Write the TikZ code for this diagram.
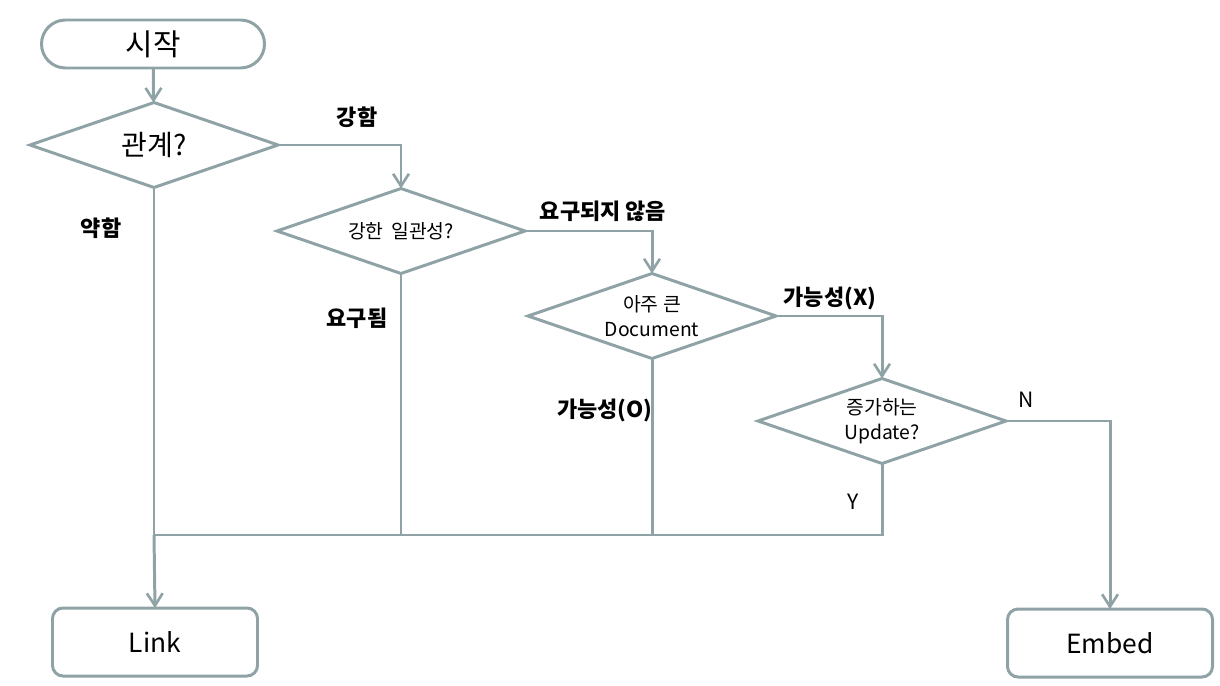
\documentclass[tikz,border=0pt]{standalone}
\usepackage{fontspec}
\setmainfont{Noto Sans CJK KR}
\usetikzlibrary{shapes.geometric,arrows.meta}
\definecolor{ln}{HTML}{8FA3A6}
\begin{document}
\begin{tikzpicture}[x=0.02cm,y=-0.02cm,
  every node/.style={inner sep=0pt, outer sep=0pt},
  term/.style={draw=ln, line width=1.7pt, minimum width=223*0.02cm, minimum height=48*0.02cm, font=\fontsize{17}{20}\selectfont},
  dec/.style={draw=ln, line width=1.7pt, diamond, aspect=2.92, minimum width=248*0.02cm, minimum height=85*0.02cm, align=center},
  endbox/.style={draw=ln, line width=1.7pt, rounded corners=6pt, minimum width=205*0.02cm, minimum height=68*0.02cm, font=\fontsize{15}{18}\selectfont},
  conn/.style={draw=ln, line width=1.7pt},
  arr/.style={conn, -{Straight Barb[length=7pt,width=9pt,line width=1.5pt]}},
  lab/.style={font=\bfseries\fontsize{12.5}{14}\selectfont},
  yn/.style={font=\fontsize{12}{14}\selectfont},
  dtext/.style={font=\fontsize{11}{14.5}\selectfont}
]
\useasboundingbox (0,0) rectangle (1220,686);
\node[term, rounded corners=24*0.02cm] (start) at (153,44) {시작};
\node[dec, font=\fontsize{16}{19}\selectfont] (d1) at (154,145) {관계?};
\node[dec, dtext] (d2) at (401,231) {강한 \,일관성?};
\node[dec, dtext] (d3) at (652,316) {아주 큰\\Document};
\node[dec, dtext] (d4) at (882,421) {증가하는\\Update?};
\node[endbox] (link) at (155,642) {Link};
\node[endbox] (embed) at (1110,643) {Embed};
\coordinate (j1) at (154,535);
\coordinate (j2) at (401,535);
\coordinate (j3) at (652,535);
\coordinate (j4) at (882,535);

\draw[arr] (start) -- (d1);
\draw[arr] (d1.east) -| (d2.north);
\draw[arr] (d2.east) -| (d3.north);
\draw[arr] (d3.east) -| (d4.north);
\draw[arr] (d4.east) -| (embed.north);
\draw[conn] (d1.south) -- (j1);
\draw[arr] (j1) -- (link.north);
\draw[conn] (d2.south) -- (j2);
\draw[conn] (d3.south) -- (j3);
\draw[conn] (d4.south) -- (j4) -- (j1);

\node[lab] (l1) at (357,117) {강함};
\node[lab] (l2) at (101,228) {약함};
\node[lab] (l3) at (603,211) {요구되지 않음};
\node[lab] (l4) at (357,318) {요구됨};
\node[lab] (l5) at (830,298) {가능성(X)};
\node[lab] (l6) at (605,410) {가능성(O)};
\node[yn] (l7) at (1026,400) {N};
\node[yn] (l8) at (853,502) {Y};
\end{tikzpicture}
\end{document}
